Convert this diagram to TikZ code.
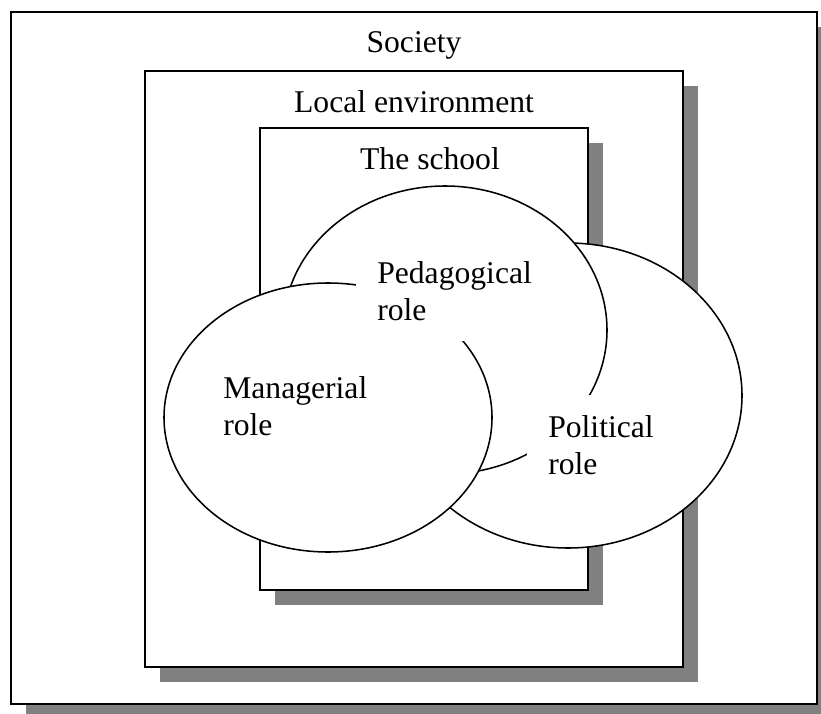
\documentclass[tikz,border=0pt]{standalone}
\usepackage{fontspec}
\setmainfont{Liberation Serif}
\usetikzlibrary{shadows}

\tikzset{
  levelbox/.style={draw, line width=1.4pt, fill=white,
    drop shadow={shadow xshift=0.375cm, shadow yshift=-0.375cm,
      fill=black!50, opacity=1}},
  rolering/.style={draw, line width=1.1pt, fill=white},
  boxtitle/.style={anchor=base},
  role/.style={fill=white, align=left, anchor=north west,
    inner xsep=0.525cm, inner ysep=0.5cm}
}

\begin{document}
\begin{tikzpicture}[every node/.style={font=\fontsize{22.5}{26.3}\selectfont}]
      \clip (0,0) rectangle (20.525,17.825);
      \fill[white] (0,0) rectangle (20.525,17.825);
      % society, local environment, school
      \draw[levelbox] (0.275,0.225) rectangle (20.425,17.525);
      \draw[levelbox] (3.625,1.15) rectangle (17.075,16.05);
      \draw[levelbox] (6.5,3.075) rectangle (14.7,14.625);
      \node[boxtitle] (society) at (10.35,16.5) {Society};
      \node[boxtitle] (local) at (10.35,15.0) {Local environment};
      \node[boxtitle] (school) at (10.75,13.575) {The school};
      % the three roles, back to front
      \draw[rolering] (14.2,7.9375) ellipse (4.35 and 3.8125);
      \draw[rolering] (11.125,9.575) ellipse (4.05 and 3.6);
      \draw[rolering] (8.2,7.3875) ellipse (4.1 and 3.3625);
      \node[role] (managerial) at (5.05,8.925) {Managerial\\role};
      \node[role] (pedagogical) at (8.9,11.8) {Pedagogical\\role};
      \node[role] (political) at (13.175,7.95) {Political\\role};
    \end{tikzpicture}
\end{document}
